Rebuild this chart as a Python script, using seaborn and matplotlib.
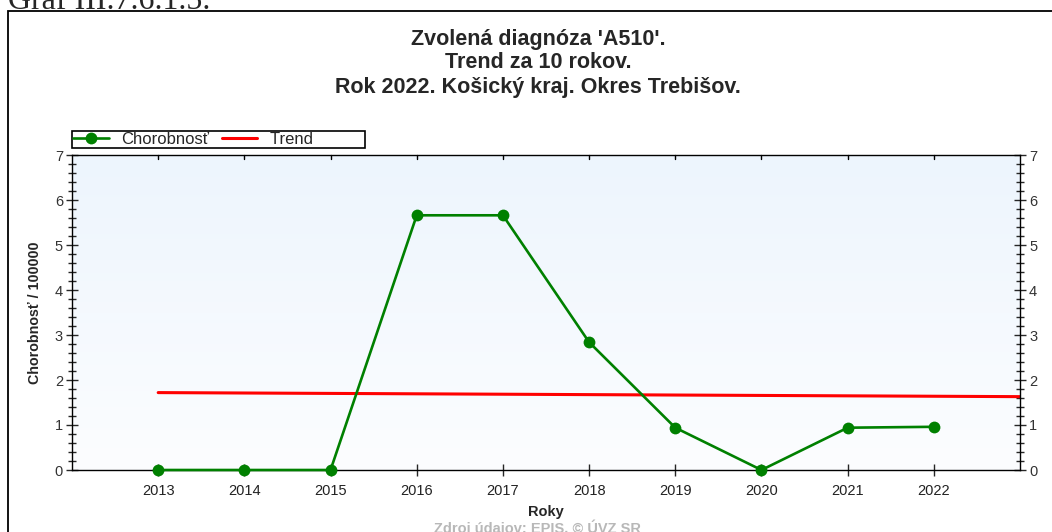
import matplotlib
matplotlib.use("Agg")
import matplotlib.pyplot as plt
from matplotlib.lines import Line2D
from matplotlib.patches import Rectangle
from matplotlib.ticker import MultipleLocator
import seaborn as sns
import numpy as np
import pandas as pd

# data
years = [2013, 2014, 2015, 2016, 2017, 2018, 2019, 2020, 2021, 2022]
chorobnost = [0, 0, 0, 5.66, 5.66, 2.84, 0.94, 0, 0.94, 0.96]
trend_x = [2013, 2023]
trend_y = [1.72, 1.63]

title_lines = ["Zvolená diagnóza 'A510'.", "Trend za 10 rokov.", "Rok 2022. Košický kraj. Okres Trebišov."]

sns.set_style("white")
plt.rcParams['font.family'] = ['Liberation Sans', 'DejaVu Sans']

fig = plt.figure(figsize=(10.52, 5.32), dpi=100)
ax = fig.add_axes([72/1052, 1-470/532, (1020-72)/1052, (470-155)/532])

# light blue gradient background
grad = np.linspace(0, 1, 256).reshape(-1, 1)
cmap = matplotlib.colors.LinearSegmentedColormap.from_list("bg", ["#fcfdff", "#edf5fd"])
ax.imshow(grad, extent=[2012, 2023, 0, 7], origin="lower", aspect="auto", cmap=cmap, zorder=0)

df = pd.DataFrame({"Roky": years, "Chorobnost": chorobnost})
sns.lineplot(data=df, x="Roky", y="Chorobnost", ax=ax, color="#008000", lw=1.9,
             marker="o", markersize=8.5, markeredgewidth=0, zorder=3, clip_on=False)
ax.plot(trend_x, trend_y, color="#ff0000", lw=2.2, zorder=2)

ax.set_xlim(2012, 2023)
ax.set_ylim(0, 7)
ax.set_xticks(years)
ax.set_xticklabels([str(y) for y in years], fontsize=10.5, color="#222222")
ax.yaxis.set_major_locator(MultipleLocator(1))
ax.yaxis.set_minor_locator(MultipleLocator(0.2))
ax.tick_params(axis="y", which="major", direction="inout", length=9, width=1,
               left=True, right=True, labelleft=True, labelright=True,
               labelsize=10.5, labelcolor="#333333", pad=2)
ax.tick_params(axis="y", which="minor", direction="inout", length=6, width=1, left=True, right=True)
ax.tick_params(axis="x", which="major", direction="inout", length=8, width=1,
               bottom=True, top=False, pad=6)
for y in years:
    ax.plot([y, y], [7, 6.92], color="black", lw=1, zorder=4, clip_on=False)
for s in ax.spines.values():
    s.set_color("black")
    s.set_linewidth(1)
ax.set_xlabel("Roky", fontsize=10.5, fontweight="bold", labelpad=5)
ax.set_ylabel("Chorobnosť / 100000", fontsize=10.3, fontweight="bold", labelpad=9)
ax.set_facecolor("none")

handles = [Line2D([], [], color="#008000", lw=1.9, marker="o", markersize=8.5, markeredgewidth=0),
           Line2D([], [], color="#ff0000", lw=2.2)]
leg = fig.legend(handles, ["Chorobnosť", "Trend" + " " * 11], loc="lower left",
                 bbox_to_anchor=(72/1052, 1-148/532), ncol=2, fontsize=12,
                 frameon=True, fancybox=False, edgecolor="black", framealpha=1,
                 borderpad=0.05, handlelength=2.15, columnspacing=0.75, handletextpad=0.75,
                 borderaxespad=0)
leg.get_frame().set_linewidth(1.2)

ys = [39, 63, 87]
for t, yy in zip(title_lines, ys):
    fig.text(538/1052, 1-yy/532, t, ha="center", va="center", fontsize=15.5, fontweight="bold")

# outer frame and caption partly cut off
fig.patches.append(Rectangle((8/1052, -0.1), 1.2, 1-11/532 + 0.1, transform=fig.transFigure,
                             fill=False, edgecolor="black", lw=1.3))
fig.text(8/1052, 1-9/532, "Graf III.7.6.1.5.", ha="left", va="baseline",
         fontsize=23, family="Liberation Serif")
fig.text(537/1052, 1-536/532, "Zdroj údajov: EPIS, © ÚVZ SR", ha="center", va="bottom",
         fontsize=10.5, color="#b8b8b8", fontweight="bold")

fig.savefig("out.png", dpi=100)
